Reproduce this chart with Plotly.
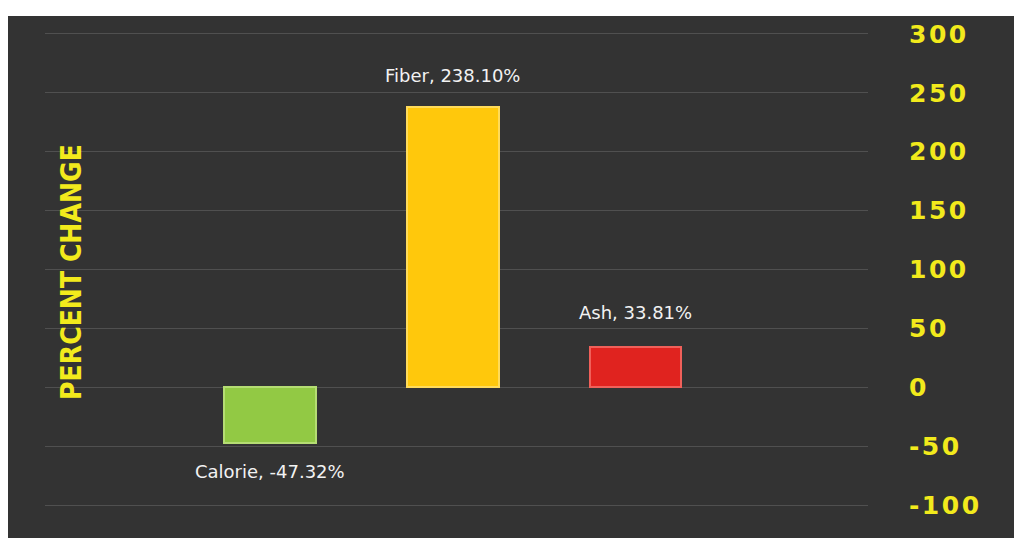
import plotly.graph_objects as go

categories = ["Calorie", "Fiber", "Ash"]
values = [-47.32, 238.10, 33.81]
labels = ["Calorie, -47.32%", "Fiber, 238.10%", "Ash, 33.81%"]
colors = ["#92C944", "#FFC80C", "#E0231F"]
edge_colors = ["#B5DD73", "#FFDB5A", "#F0605A"]
tick_vals = [-100, -50, 0, 50, 100, 150, 200, 250, 300]

x_pos = list(range(len(categories)))

fig = go.Figure()
fig.add_trace(go.Bar(
    x=x_pos, y=values, width=0.5,
    marker=dict(color=colors, line=dict(color=edge_colors, width=2)),
    hoverinfo="skip", showlegend=False,
))

label_shifts = [-28, 31, 35]
for xi, v, lab, sh in zip(x_pos, values, labels, label_shifts):
    fig.add_annotation(x=xi, y=v, text=lab, showarrow=False,
                       yshift=sh, yanchor="middle",
                       font=dict(family="DejaVu Sans", size=18, color="#F2F2F2"))

fig.add_annotation(xref="paper", yref="paper", x=0.0328, y=0.495, text="<b>PERCENT CHANGE</b>",
                   textangle=-90, showarrow=False, xanchor="center", yanchor="middle",
                   font=dict(family="DejaVu Sans Condensed", size=28, color="#F2EA1C"))

# dark panel (leaves a thin white strip at the top)
fig.add_shape(type="rect", xref="paper", yref="paper", x0=-0.1, x1=1.3, y0=-0.2, y1=1.0246,
              fillcolor="#333333", line_width=0, layer="below")

fig.update_layout(
    width=1014, height=530,
    margin=dict(l=37, r=154, t=16, b=27),
    paper_bgcolor="white", plot_bgcolor="#333333",
    bargap=0,
    xaxis=dict(range=[-1.23, 3.27], showticklabels=False, showgrid=False, zeroline=False,
               showline=False, ticks=""),
    yaxis=dict(side="right", range=[-105, 305], tickvals=tick_vals,
               ticktext=["\u200a".join(str(t)) for t in tick_vals],
               tickfont=dict(family="DejaVu Sans", size=25, color="#F2EA1C", weight="bold"),
               ticklabelstandoff=40,
               showgrid=True, gridcolor="#505050", gridwidth=1,
               zeroline=True, zerolinecolor="#505050", zerolinewidth=1,
               showline=False, ticks=""),
)

fig.write_html("out.html")
